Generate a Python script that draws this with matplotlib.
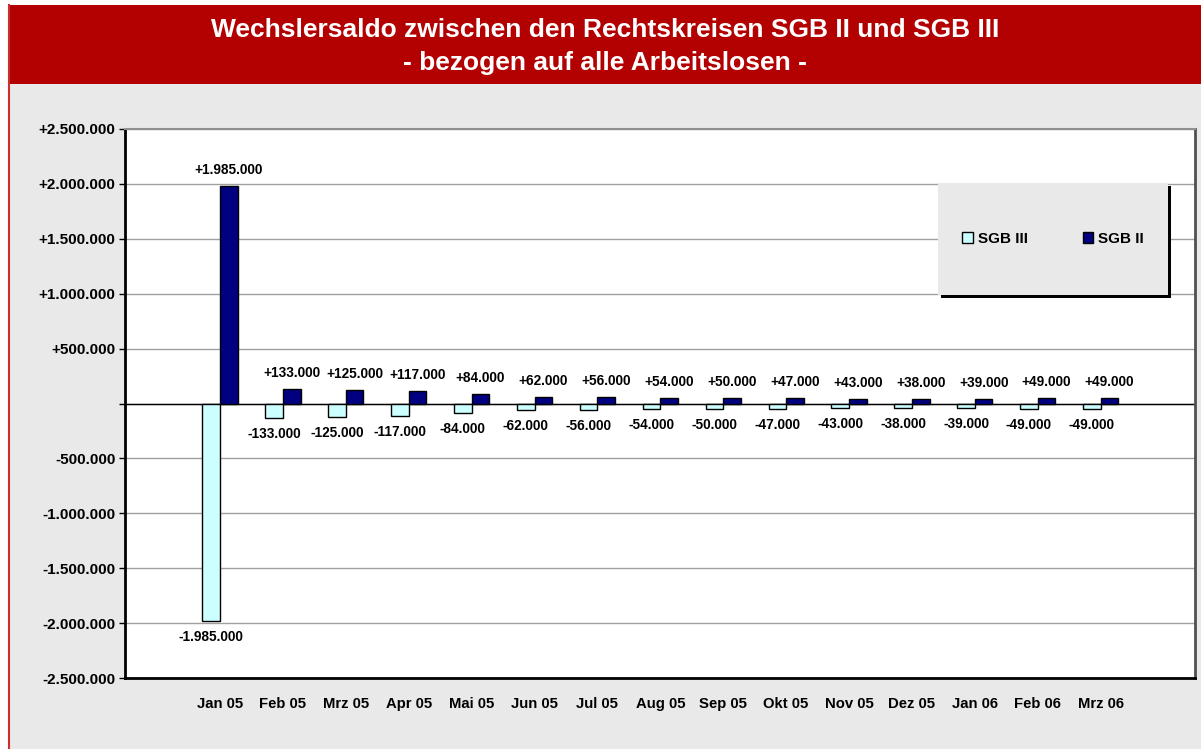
import matplotlib.pyplot as plt
import numpy as np
from matplotlib.patches import Rectangle

plt.rcParams['font.family'] = ['Liberation Sans', 'DejaVu Sans']
plt.rcParams['font.weight'] = 'bold'

monate = ['Jan 05', 'Feb 05', 'Mrz 05', 'Apr 05', 'Mai 05', 'Jun 05', 'Jul 05', 'Aug 05',
          'Sep 05', 'Okt 05', 'Nov 05', 'Dez 05', 'Jan 06', 'Feb 06', 'Mrz 06']
sgb_ii = [1985000, 133000, 125000, 117000, 84000, 62000, 56000, 54000,
          50000, 47000, 43000, 38000, 39000, 49000, 49000]
sgb_iii = [-1985000, -133000, -125000, -117000, -84000, -62000, -56000, -54000,
           -50000, -47000, -43000, -38000, -39000, -49000, -49000]
y_ticks = [-2500000, -2000000, -1500000, -1000000, -500000, 0,
           500000, 1000000, 1500000, 2000000, 2500000]


def fmt(v):
    if v == 0:
        return ''
    s = f"{abs(v):,}".replace(',', '.')
    return ('+' if v > 0 else '-') + s


W, H = 1201, 749
fig = plt.figure(figsize=(W / 100, H / 100), dpi=100)
fig.patch.set_facecolor('white')

# Hintergrund, Kopfzeile, roter Rand links
fig.add_artist(Rectangle((8 / W, 0), 1 - 8 / W, 1 - 5 / H, transform=fig.transFigure,
                         facecolor='#E9E9E9', edgecolor='none', zorder=0))
fig.add_artist(Rectangle((8 / W, 1 - 84 / H), 1 - 8 / W, 79 / H, transform=fig.transFigure,
                         facecolor='#B30000', edgecolor='none', zorder=1))
fig.add_artist(plt.Line2D([9 / W, 9 / W], [0, 1 - 5 / H], transform=fig.transFigure,
                          color='#C83030', lw=1.5, zorder=2))
fig.text(605 / W, 1 - 30 / H, 'Wechslersaldo zwischen den Rechtskreisen SGB II und SGB III',
         ha='center', va='center', color='white', fontsize=19, fontweight='bold')
fig.text(605 / W, 1 - 63 / H, '- bezogen auf alle Arbeitslosen -',
         ha='center', va='center', color='white', fontsize=19, fontweight='bold')

ax = fig.add_axes([125 / W, 1 - 678 / H, (1195 - 125) / W, (678 - 129) / H])
ax.set_facecolor('white')

x = np.arange(len(monate))
w = 0.28
ax.bar(x - w / 2, sgb_iii, w, color='#CCFFFF', edgecolor='black', lw=1, zorder=3, label='SGB III')
ax.bar(x + w / 2, sgb_ii, w, color='#000080', edgecolor='black', lw=1, zorder=3, label='SGB II')

for i in range(len(monate)):
    ax.annotate(fmt(sgb_ii[i]), (x[i] + w / 2, sgb_ii[i]), xytext=(0, 11.5),
                textcoords='offset points', ha='center', va='center', fontsize=9.8, fontweight='bold')
    ax.annotate(fmt(sgb_iii[i]), (x[i] - w / 2, sgb_iii[i]), xytext=(0, -11.5),
                textcoords='offset points', ha='center', va='center', fontsize=9.8, fontweight='bold')

ax.set_xlim(-1.51, 15.5)
ax.set_ylim(-2500000, 2500000)
ax.set_yticks(y_ticks)
ax.set_yticklabels([fmt(v) for v in y_ticks], fontsize=11, fontweight='bold')
ax.set_xticks(x)
ax.set_xticklabels(monate, fontsize=10.7, fontweight='bold')
ax.tick_params(axis='x', length=0, pad=14)
ax.tick_params(axis='y', length=4, width=1, direction='out', pad=3)
ax.grid(axis='y', color='#A0A0A0', lw=1, zorder=1)
ax.axhline(0, color='black', lw=1, zorder=2)

ax.spines['left'].set_linewidth(2)
ax.spines['bottom'].set_linewidth(2)
ax.spines['right'].set_color('#505050')
ax.spines['right'].set_linewidth(2)
ax.spines['top'].set_color('#909090')
ax.spines['top'].set_linewidth(1.5)

# Legende mit Schatten
fig.add_artist(Rectangle((941 / W, 1 - 298 / H), 230 / W, 112 / H, transform=fig.transFigure,
                         facecolor='black', edgecolor='none', zorder=5))
fig.add_artist(Rectangle((938 / W, 1 - 295 / H), 230 / W, 112 / H, transform=fig.transFigure,
                         facecolor='#E9E9E9', edgecolor='none', zorder=6))
leg = fig.legend(loc='center', bbox_to_anchor=(1053 / W, 1 - 239 / H), ncol=2, frameon=False,
                 handlelength=0.7, handleheight=0.7, handletextpad=0.3,
                 columnspacing=3.6, prop={'weight': 'bold', 'size': 11})
leg.set_zorder(7)

plt.savefig('out.png', dpi=100)
